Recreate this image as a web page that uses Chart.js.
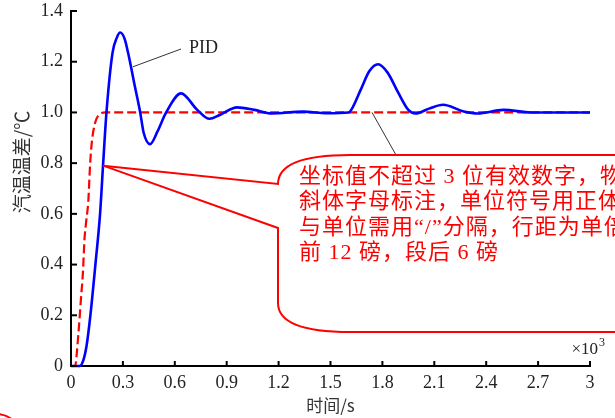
<!DOCTYPE html>
<html>
<head>
<meta charset="utf-8">
<script src="https://cdn.jsdelivr.net/npm/chart.js@4.4.0/dist/chart.umd.min.js"></script>
<style>
  html, body { margin: 0; padding: 0; background: #fff; }
  #wrap { width: 615px; height: 418px; }
</style>
</head>
<body>
<div id="wrap"><canvas id="chart" width="615" height="418"></canvas></div>
<script>
// time in units of 10^3 s
const pidTime = [0, 0.05, 0.07, 0.09, 0.112, 0.141, 0.168, 0.186, 0.205, 0.24, 0.265, 0.284, 0.31, 0.33, 0.37, 0.40, 0.42, 0.457, 0.50, 0.55, 0.636, 0.73, 0.80, 0.86, 0.96, 1.06, 1.16, 1.34, 1.48, 1.605, 1.62, 1.675, 1.725, 1.775, 1.83, 1.89, 1.95, 1.99, 2.07, 2.15, 2.27, 2.35, 2.50, 2.66, 3.0];
const pidValues = [0, 0, 0.02, 0.08, 0.2, 0.4, 0.6, 0.8, 1.0, 1.235, 1.295, 1.315, 1.29, 1.235, 1.10, 1.0, 0.92, 0.875, 0.925, 1.0, 1.075, 1.01, 0.975, 0.99, 1.02, 1.01, 0.996, 1.003, 0.997, 1.0, 1.01, 1.09, 1.163, 1.19, 1.157, 1.08, 1.01, 0.996, 1.015, 1.03, 1.004, 0.996, 1.01, 1.0, 1.0];

const refTime = [0, 0.023, 0.043, 0.057, 0.069, 0.078, 0.087, 0.10, 0.11, 0.12, 0.14, 0.17, 0.2, 3.0];
const refValues = [0, 0, 0.13, 0.26, 0.37, 0.50, 0.565, 0.65, 0.79, 0.88, 0.96, 0.995, 1.0, 1.0];

const xTickValues = [0, 0.3, 0.6, 0.9, 1.2, 1.5, 1.8, 2.1, 2.4, 2.7, 3];
const xTickLabels = ['0', '0.3', '0.6', '0.9', '1.2', '1.5', '1.8', '2.1', '2.4', '2.7', '3'];
const yTickValues = [0, 0.2, 0.4, 0.6, 0.8, 1.0, 1.2, 1.4];
const yTickLabels = ['0', '0.2', '0.4', '0.6', '0.8', '1.0', '1.2', '1.4'];

const noteLines = [
    '坐标值不超过 3 位有效数字，物理量用',
    '斜体字母标注，单位符号用正体，物理量',
    '与单位需用“/”分隔，行距为单倍行距，段',
    '前 12 磅，段后 6 磅'
];

const serif = "'Liberation Serif', 'Times New Roman', 'Noto Sans CJK SC', serif";
const cjk = "'Noto Sans CJK SC', sans-serif";

function toPoints(xs, ys) {
    return xs.map((x, i) => ({ x: x, y: ys[i] }));
}

function line(ctx, x1, y1, x2, y2) {
    ctx.beginPath();
    ctx.moveTo(x1, y1);
    ctx.lineTo(x2, y2);
    ctx.stroke();
}

const decorations = {
    id: 'decorations',
    afterDraw(chart) {
        const ctx = chart.ctx;
        const xs = chart.scales.x;
        const ys = chart.scales.y;
        const area = chart.chartArea;
        ctx.save();

        // inward tick marks
        ctx.strokeStyle = '#000';
        ctx.lineWidth = 2;
        xTickValues.forEach(v => {
            const px = xs.getPixelForValue(v);
            line(ctx, px, area.bottom, px, area.bottom - 5);
        });
        yTickValues.forEach(v => {
            const py = ys.getPixelForValue(v);
            line(ctx, area.left, py, area.left + 6, py);
        });

        // x10^3
        ctx.fillStyle = '#222';
        ctx.font = '17px ' + serif;
        ctx.textAlign = 'right';
        ctx.textBaseline = 'alphabetic';
        ctx.fillText('×10', 598, 354);
        ctx.font = '12px ' + serif;
        ctx.textAlign = 'left';
        ctx.fillText('3', 599, 346);

        // y axis title
        ctx.save();
        ctx.translate(22, 162);
        ctx.rotate(-Math.PI / 2);
        ctx.font = '19px ' + cjk;
        ctx.textAlign = 'center';
        ctx.textBaseline = 'middle';
        ctx.fillStyle = '#333';
        ctx.fillText('汽温温差/℃', 0, 0);
        ctx.restore();

        // PID label and leader
        ctx.strokeStyle = '#333';
        ctx.lineWidth = 1;
        const pidPt = { x: xs.getPixelForValue(0.358), y: ys.getPixelForValue(1.18) };
        line(ctx, pidPt.x, pidPt.y, 181, 49);
        ctx.fillStyle = '#222';
        ctx.font = '18px ' + serif;
        ctx.textAlign = 'left';
        ctx.textBaseline = 'middle';
        ctx.fillText('PID', 189, 48);

        // leader from reference line to note box
        const refPt = { x: xs.getPixelForValue(1.74), y: ys.getPixelForValue(1.0) };
        line(ctx, refPt.x, refPt.y, 396, 155);

        // note callout box
        const tip = { x: xs.getPixelForValue(0.186), y: ys.getPixelForValue(0.79) };
        ctx.strokeStyle = '#ff0000';
        ctx.lineWidth = 2;
        ctx.beginPath();
        ctx.moveTo(tip.x, tip.y);
        ctx.lineTo(278, 184);
        ctx.quadraticCurveTo(278, 155, 350, 155);
        ctx.lineTo(620, 155);
        ctx.stroke();
        ctx.beginPath();
        ctx.moveTo(tip.x, tip.y);
        ctx.lineTo(278, 228);
        ctx.lineTo(278, 303);
        ctx.quadraticCurveTo(278, 332, 350, 332);
        ctx.lineTo(620, 332);
        ctx.stroke();

        ctx.fillStyle = '#ff0000';
        ctx.font = '22px ' + serif;
        ctx.letterSpacing = '1px';
        ctx.textAlign = 'left';
        ctx.textBaseline = 'middle';
        noteLines.forEach((t, i) => {
            ctx.fillText(t, 299, 177 + i * 25.5);
        });
        ctx.letterSpacing = '0px';

        // partial circle at bottom-left corner
        ctx.beginPath();
        ctx.arc(-4, 441, 27, 0, Math.PI * 2);
        ctx.stroke();

        ctx.restore();
    }
};

new Chart(document.getElementById('chart'), {
    type: 'line',
    data: {
        datasets: [{
            label: 'PID',
            data: toPoints(pidTime, pidValues),
            borderColor: '#0000ff',
            borderWidth: 2.6,
            pointRadius: 0,
            cubicInterpolationMode: 'monotone',
            fill: false,
            clip: 4
        }, {
            label: 'ref',
            data: toPoints(refTime, refValues),
            borderColor: '#ff0000',
            borderWidth: 2.2,
            borderDash: [9, 4],
            pointRadius: 0,
            cubicInterpolationMode: 'monotone',
            fill: false,
            clip: 4
        }]
    },
    options: {
        responsive: false,
        animation: false,
        layout: { padding: { left: 0, right: 25, top: 11, bottom: 0 } },
        plugins: {
            legend: { display: false },
            tooltip: { enabled: false }
        },
        scales: {
            x: {
                type: 'linear',
                min: 0,
                max: 3,
                afterBuildTicks: s => { s.ticks = xTickValues.map(v => ({ value: v })); },
                afterFit: s => { s.height = 52; s.paddingLeft = 0; s.paddingRight = 0; },
                grid: { display: false, drawTicks: false },
                border: { display: true, color: '#000', width: 2 },
                ticks: {
                    padding: 6,
                    color: '#222',
                    font: { family: serif, size: 18 },
                    maxRotation: 0,
                    callback: (v, i) => xTickLabels[i]
                },
                title: {
                    display: true,
                    text: '时间/s',
                    color: '#333',
                    font: { family: cjk, size: 17 },
                    padding: { top: 0, bottom: 2 }
                }
            },
            y: {
                type: 'linear',
                min: 0,
                max: 1.4,
                afterBuildTicks: s => { s.ticks = yTickValues.map(v => ({ value: v })); },
                afterFit: s => { s.width = 71; s.paddingTop = 0; s.paddingBottom = 0; },
                grid: { display: false, drawTicks: false },
                border: { display: true, color: '#000', width: 2 },
                ticks: {
                    padding: 8,
                    color: '#222',
                    font: { family: serif, size: 18 },
                    callback: (v, i) => yTickLabels[i]
                }
            }
        }
    },
    plugins: [decorations]
});
</script>
</body>
</html>
